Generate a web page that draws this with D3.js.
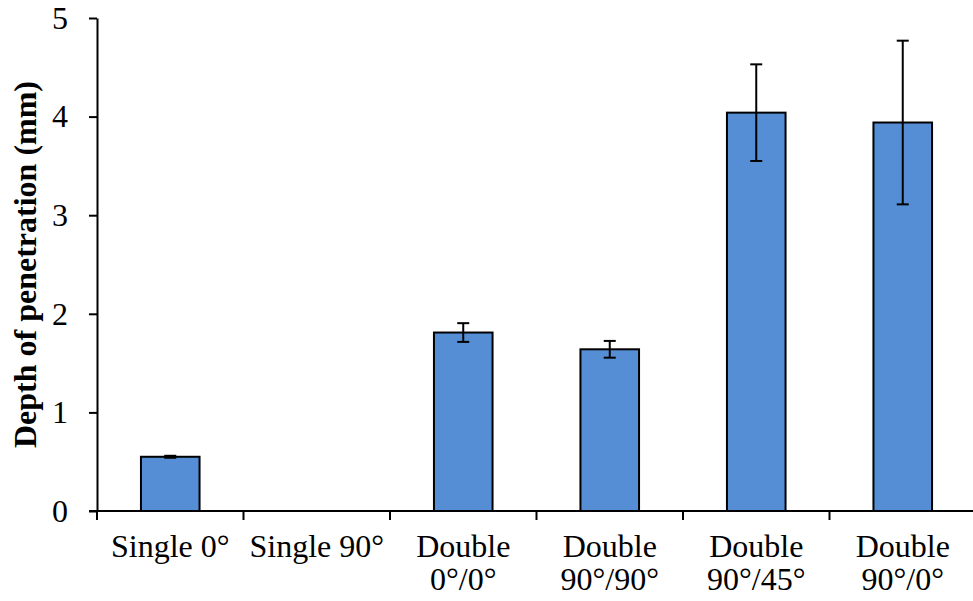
<!DOCTYPE html>
<html>
<head>
<meta charset="utf-8">
<script src="https://cdn.jsdelivr.net/npm/d3@7"></script>
<style>
  body { margin: 0; background: #fff; }
  svg { display: block; }
  .axis text { font-family: "Liberation Serif", "Times New Roman", serif; font-size: 32px; fill: #000; }
  .axis path, .axis line { stroke: #000; stroke-width: 2px; }
</style>
</head>
<body>
<div id="chart"></div>
<script>
var width = 973;
var height = 601;

// data
var categories = [["Single 0°"], ["Single 90°"], ["Double", "0°/0°"], ["Double", "90°/90°"], ["Double", "90°/45°"], ["Double", "90°/0°"]];
var depths = [0.55, 0, 1.81, 1.64, 4.04, 3.94];
var errors = [0.01, 0, 0.095, 0.085, 0.49, 0.83];
var yTicks = [0, 1, 2, 3, 4, 5];

var margin = { top: 18, right: -3, bottom: 90, left: 97 };

var svg = d3.select("#chart").append("svg")
  .attr("width", width)
  .attr("height", height);

var g = svg.append("g")
  .attr("transform", "translate(" + margin.left + "," + margin.top + ")");

var w = width - margin.left - margin.right;
var h = height - margin.top - margin.bottom;

var keys = categories.map(function(c, i) { return i; });

var x = d3.scaleBand().domain(keys).range([0, w]).paddingInner(0.6).paddingOuter(0.3);
var xb = d3.scaleBand().domain(keys).range([0, w]);
var y = d3.scaleLinear().domain([0, 5]).range([h, 0]);

// bars
g.selectAll(".bar")
  .data(depths)
  .enter().append("rect")
  .attr("class", "bar")
  .attr("x", function(d, i) { return x(i); })
  .attr("y", function(d) { return y(d); })
  .attr("width", x.bandwidth())
  .attr("height", function(d) { return h - y(d); })
  .style("fill", "#558ed5")
  .style("stroke", "#000")
  .style("stroke-width", 2)
  .style("display", function(d) { return d > 0 ? null : "none"; });

// error bars
var eb = g.selectAll(".err")
  .data(depths)
  .enter().append("g")
  .attr("class", "err")
  .style("display", function(d) { return d > 0 ? null : "none"; });

eb.append("line")
  .attr("x1", function(d, i) { return x(i) + x.bandwidth() / 2; })
  .attr("x2", function(d, i) { return x(i) + x.bandwidth() / 2; })
  .attr("y1", function(d, i) { return y(d + errors[i]); })
  .attr("y2", function(d, i) { return y(d - errors[i]); })
  .style("stroke", "#000").style("stroke-width", 2);

eb.append("line")
  .attr("x1", function(d, i) { return x(i) + x.bandwidth() / 2 - 6; })
  .attr("x2", function(d, i) { return x(i) + x.bandwidth() / 2 + 6; })
  .attr("y1", function(d, i) { return y(d + errors[i]); })
  .attr("y2", function(d, i) { return y(d + errors[i]); })
  .style("stroke", "#000").style("stroke-width", 2);

eb.append("line")
  .attr("x1", function(d, i) { return x(i) + x.bandwidth() / 2 - 6; })
  .attr("x2", function(d, i) { return x(i) + x.bandwidth() / 2 + 6; })
  .attr("y1", function(d, i) { return y(d - errors[i]); })
  .attr("y2", function(d, i) { return y(d - errors[i]); })
  .style("stroke", "#000").style("stroke-width", 2);

// y axis
var yAxis = g.append("g")
  .attr("class", "axis")
  .call(d3.axisLeft(y).tickValues(yTicks).tickFormat(d3.format("d")).tickSize(8).tickPadding(21).tickSizeOuter(0));

// x axis: ticks at category boundaries
var xAxis = g.append("g")
  .attr("class", "axis")
  .attr("transform", "translate(0," + h + ")");

xAxis.append("line")
  .attr("x1", -8).attr("x2", w)
  .style("stroke", "#000").style("stroke-width", 2);

xAxis.selectAll(".xtick")
  .data(keys)
  .enter().append("line")
  .attr("class", "xtick")
  .attr("x1", function(d) { return xb(d); })
  .attr("x2", function(d) { return xb(d); })
  .attr("y1", 0).attr("y2", 9)
  .style("stroke", "#000").style("stroke-width", 2);

var labels = xAxis.selectAll(".xlabel")
  .data(categories)
  .enter().append("text")
  .attr("class", "xlabel")
  .attr("text-anchor", "middle")
  .attr("transform", function(d, i) { return "translate(" + (xb(i) + xb.bandwidth() / 2) + ",0)"; });

labels.selectAll("tspan")
  .data(function(d) { return d; })
  .enter().append("tspan")
  .attr("x", 0)
  .attr("y", function(d, j) { return 46 + j * 33; })
  .text(function(d) { return d; });

// y axis title
g.append("text")
  .attr("transform", "rotate(-90)")
  .attr("x", -h / 2)
  .attr("y", -61)
  .attr("text-anchor", "middle")
  .style("font-family", "'Liberation Serif', 'Times New Roman', serif")
  .style("font-size", "32px")
  .style("font-weight", "bold")
  .text("Depth of penetration (mm)");
</script>
</body>
</html>
